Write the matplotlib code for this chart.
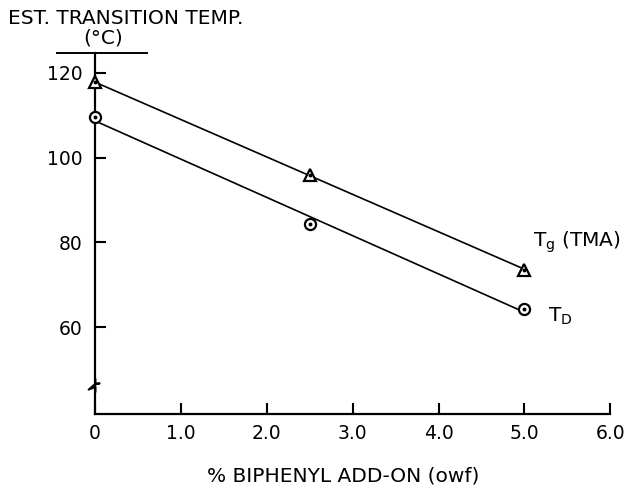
import numpy as np
import matplotlib
matplotlib.use('Agg')
import matplotlib.pyplot as plt
from matplotlib.path import Path

# biphenyl add-on (% owf) and estimated transition temperatures (deg C)
addon = [0.0, 2.5, 5.0]
tg_tma = [117.7, 95.9, 73.6]
t_d = [109.5, 84.4, 64.4]

xticks = [0, 1, 2, 3, 4, 5, 6]
xticklabels = ['0', '1.0', '2.0', '3.0', '4.0', '5.0', '6.0']
yticks = [60, 80, 100, 120]

plt.rcParams['font.family'] = ['DejaVu Sans']

fig = plt.figure(figsize=(6.32, 4.9), dpi=100)
ax = fig.add_axes([0.1421, 0.1541, 0.8237, 0.7377])
ax.set_xlim(-0.06, 6.0)
ax.set_ylim(39.45, 124.64)

# fitted lines, markers drawn over them with white faces
xs = np.array([0.0, 5.0])
for vals, mk, ms in [(tg_tma, '^', 9), (t_d, 'o', 8)]:
    k, b = np.polyfit(addon, vals, 1)
    ax.plot(xs, k * xs + b, color='black', lw=1.2, zorder=2)
    ax.plot(addon, vals, ls='none', marker=mk, ms=ms, mfc='white',
            mec='black', mew=1.6, zorder=3, clip_on=False)
    ax.plot(addon, vals, ls='none', marker='o', ms=1.8, color='black',
            zorder=4, clip_on=False)

ax.text(5.1, 80.0, r'$\mathregular{T_g}$ (TMA)', fontsize=14.5,
        ha='left', va='center')
ax.text(5.27, 62.5, r'$\mathregular{T_D}$', fontsize=14.5,
        ha='left', va='center')

# axes: only left and bottom, ticks pointing inwards
for side in ['top', 'right']:
    ax.spines[side].set_visible(False)
ax.spines['left'].set_position(('data', 0))
ax.spines['left'].set_linewidth(1.6)
ax.spines['bottom'].set_linewidth(1.6)
ax.spines['bottom'].set_bounds(0, 6)
ax.set_xticks(xticks)
ax.set_xticklabels(xticklabels)
ax.set_yticks(yticks)
ax.tick_params(direction='in', length=8, width=1.5, labelsize=13.5)
ax.tick_params(axis='x', pad=7)
ax.tick_params(axis='y', pad=9)

# axis break on the temperature scale
brk = Path([(0.0, -1.0), (0.0, -0.2), (-1.0, -0.6), (-0.2, 0.1),
            (0.6, 0.3), (0.0, 0.3), (0.0, 1.0)])
ax.plot([0], [46.4], marker=brk, ms=10, mfc='none', mec='black', mew=1.4,
        clip_on=False, zorder=5)

# bar under the axis title
ax.plot([-0.063, 0.110], [1, 1], transform=ax.transAxes, color='black',
        lw=1.4, clip_on=False)

fig.text(8 / 632, 1 - 18 / 490, 'EST. TRANSITION TEMP.', fontsize=14.5,
         ha='left', va='center')
fig.text(103 / 632, 1 - 38 / 490, '(°C)', fontsize=14.5, ha='center',
         va='center')
fig.text(343 / 632, 1 - 476 / 490, '% BIPHENYL ADD-ON (owf)', fontsize=14.5,
         ha='center', va='center')

fig.savefig('out.png', dpi=100)
